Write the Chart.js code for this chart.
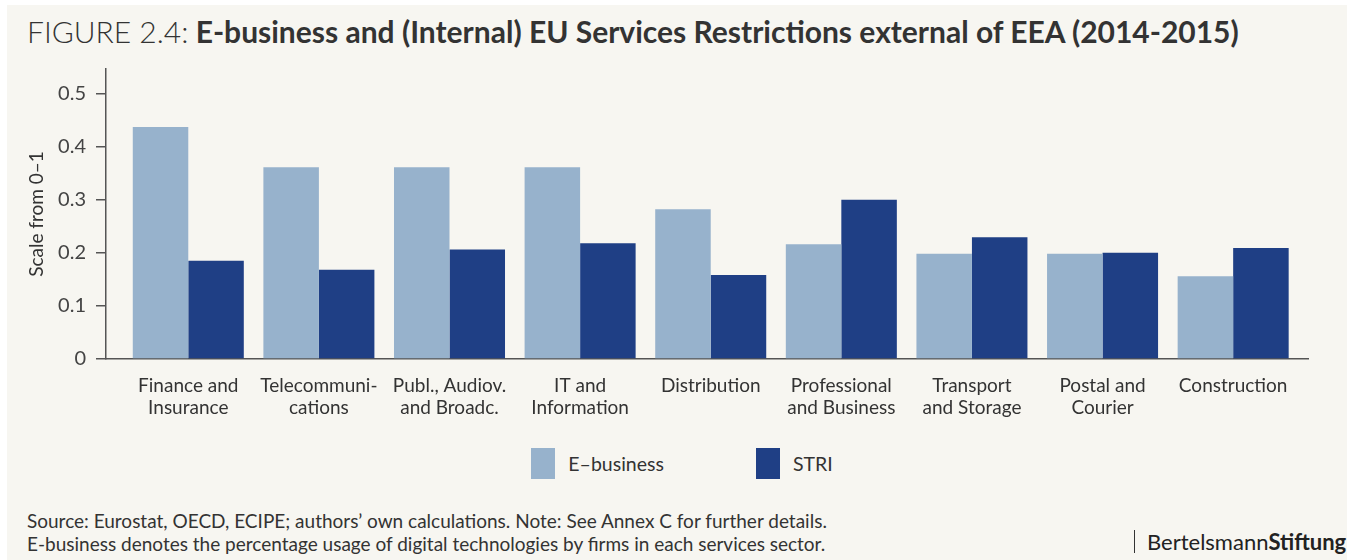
<!DOCTYPE html>
<html>
<head>
<meta charset="utf-8">
<title>E-business and STRI</title>
<script src="https://cdn.jsdelivr.net/npm/chart.js@4.4.0/dist/chart.umd.min.js"></script>
<style>
  html, body { margin: 0; padding: 0; background: #fff; }
  body { position: relative; width: 1364px; height: 560px; overflow: hidden; font-family: Lato, "Open Sans", sans-serif; color: #333; }
  .panel { position: absolute; left: 7px; top: 5px; width: 1340px; height: 555px; background: #f7f6f1; }
  .chart-box { position: absolute; left: 0; top: 0; width: 1364px; height: 440px; }
  h1 { position: absolute; left: 27px; top: 13px; margin: 0; font-size: 30px; font-weight: 700; color: #333; white-space: nowrap; }
  h1 span { font-weight: 300; }
  #bar-legend { position: absolute; left: 0; top: 448px; width: 1364px; }
  #bar-legend ul { list-style: none; margin: 0; padding: 0; display: flex; justify-content: center; gap: 92px; }
  #bar-legend li { display: flex; align-items: center; font-size: 19.5px; color: #333; }
  #bar-legend .legend-dots { display: inline-block; width: 24px; height: 31px; margin-right: 13px; }
  .note { position: absolute; left: 27px; top: 509px; font-size: 19px; line-height: 23px; color: #333; }
  .logo { position: absolute; left: 1134px; top: 530px; height: 23px; padding-left: 12px; border-left: 1.5px solid #333; font-size: 22px; line-height: 23px; color: #222; }
  .logo b { font-weight: 700; }
</style>
</head>
<body>
<div class="panel"></div>
<h1><span>FIGURE 2.4:</span> E-business and (Internal) EU Services Restrictions external of EEA (2014-2015)</h1>
<div class="chart-box"><canvas id="sector-chart" width="1364" height="440"></canvas></div>
<div id="bar-legend"></div>
<div class="note">Source: Eurostat, OECD, ECIPE; authors’ own calculations. Note: See Annex C for further details.<br>E-business denotes the percentage usage of digital technologies by firms in each services sector.</div>
<div class="logo">Bertelsmann<b>Stiftung</b></div>
<script>
// sectors, in the order they appear along the axis
var categories = [
  ['Finance and', 'Insurance'],
  ['Telecommuni-', 'cations'],
  ['Publ., Audiov.', 'and Broadc.'],
  ['IT and', 'Information'],
  ['Distribution'],
  ['Professional', 'and Business'],
  ['Transport', 'and Storage'],
  ['Postal and', 'Courier'],
  ['Construction']
];
var seriesNames = ['E–business', 'STRI'];
var eBusiness = [0.437, 0.361, 0.361, 0.361, 0.282, 0.216, 0.198, 0.198, 0.156];
var stri = [0.185, 0.168, 0.206, 0.218, 0.158, 0.300, 0.229, 0.200, 0.209];
var yTicks = [0, 0.1, 0.2, 0.3, 0.4, 0.5];

var lightBlue = '#97b2cc';
var navy = '#1f3f85';
var axisGrey = '#555';

// bars sit on a linear x scale so the axis can run a little past the outer groups
function toPoints(values) {
  return values.map(function(v, i) { return { x: i, y: v }; });
}

var sectorChartData = {
  datasets: [{
    label: seriesNames[0],
    data: toPoints(eBusiness),
    backgroundColor: lightBlue,
    legendColor: lightBlue
  }, {
    label: seriesNames[1],
    data: toPoints(stri),
    backgroundColor: navy,
    legendColor: navy
  }]
};

var sectorChartOptions = {
  responsive: false,
  animation: false,
  devicePixelRatio: 1,
  layout: { padding: { top: 69, right: 56, left: 0, bottom: 0 } },
  datasets: { bar: { categoryPercentage: 0.85, barPercentage: 1.0, borderWidth: 0 } },
  plugins: { legend: { display: false }, tooltip: { enabled: false } },
  scales: {
    x: {
      type: 'linear',
      min: -0.63,
      max: 8.573,
      offset: false,
      z: 1,
      grid: { display: false, drawTicks: false },
      border: { color: axisGrey, width: 1.5 },
      afterBuildTicks: function(scale) {
        scale.ticks = categories.map(function(c, i) { return { value: i }; });
      },
      afterFit: function(scale) { scale.height = 81; },
      ticks: {
        autoSkip: false,
        maxRotation: 0,
        padding: 15,
        color: '#333',
        font: { family: 'Lato', size: 19, lineHeight: 1.2 },
        callback: function(value) { return categories[value]; }
      }
    },
    y: {
      min: 0,
      max: 0.546,
      grid: { drawOnChartArea: false, drawTicks: true, tickLength: 10, color: axisGrey, lineWidth: 1.5 },
      border: { color: axisGrey, width: 1.5 },
      afterBuildTicks: function(scale) {
        scale.ticks = yTicks.map(function(v) { return { value: v }; });
      },
      afterFit: function(scale) { scale.width = 106; },
      ticks: {
        padding: 10,
        color: '#444',
        font: { family: 'Lato', size: 20 },
        callback: function(value) { return value === 0 ? '0' : value.toFixed(1); }
      },
      title: {
        display: true,
        text: 'Scale from 0–1',
        color: '#333',
        font: { family: 'Lato', size: 19 },
        padding: { top: 25, bottom: 0 }
      }
    }
  }
};

var sectorChartCanvas = document.getElementById('sector-chart').getContext('2d');
var sectorChart = new Chart(sectorChartCanvas, {
  type: 'bar',
  data: sectorChartData,
  options: sectorChartOptions
});

// html legend built from the datasets
var text = [];
text.push('<ul>');
for (var i = 0; i < sectorChart.data.datasets.length; i++) {
  var ds = sectorChart.data.datasets[i];
  text.push('<li><span class="legend-dots" style="background:' + ds.legendColor + '"></span>' + ds.label + '</li>');
}
text.push('</ul>');
document.getElementById('bar-legend').innerHTML = text.join('');
</script>
</body>
</html>
